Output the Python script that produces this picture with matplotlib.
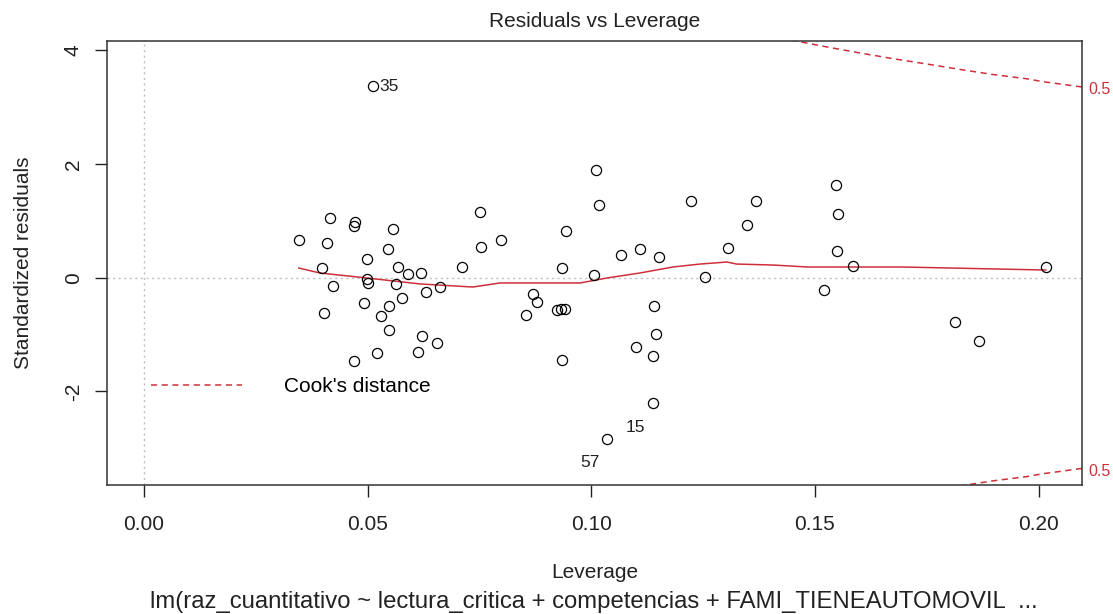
import numpy as np
import matplotlib
matplotlib.use("Agg")
import matplotlib.pyplot as plt

plt.rcParams["font.family"] = ["Liberation Sans", "DejaVu Sans"]

# Data
leverage = [
    0.0416, 0.0472, 0.0469, 0.0557, 0.0346, 0.0409, 0.0545, 0.0498, 0.0398, 0.0568,
    0.0590, 0.0619, 0.0498, 0.0501, 0.0563, 0.0422, 0.0630, 0.0662, 0.0577, 0.0492,
    0.0548, 0.0402, 0.0530, 0.0548, 0.0621, 0.0655, 0.0521, 0.0612, 0.0469, 0.0711,
    0.0751, 0.0753, 0.0798, 0.0869, 0.0878, 0.0854, 0.0923, 0.0932, 0.0941, 0.0934,
    0.0934, 0.0943, 0.1006, 0.1010, 0.1017, 0.1035, 0.1066, 0.1100, 0.1109, 0.1138,
    0.1140, 0.1144, 0.1138, 0.1151, 0.1223, 0.1254, 0.1305, 0.1348, 0.1368, 0.1520,
    0.1547, 0.1551, 0.1549, 0.1585, 0.1813, 0.1866, 0.2016, 0.0511,
]
std_resid = [
    1.050, 0.980, 0.910, 0.857, 0.663, 0.610, 0.505, 0.329, 0.171, 0.188,
    0.065, 0.083, -0.023, -0.093, -0.111, -0.146, -0.252, -0.164, -0.357, -0.445,
    -0.498, -0.621, -0.674, -0.920, -1.026, -1.149, -1.325, -1.307, -1.466, 0.188,
    1.156, 0.540, 0.663, -0.287, -0.428, -0.656, -0.568, -0.551, -0.551, 0.171,
    -1.448, 0.822, 0.048, 1.895, 1.279, -2.838, 0.399, -1.219, 0.505, -2.205,
    -0.498, -0.991, -1.378, 0.364, 1.350, 0.012, 0.523, 0.927, 1.350, -0.216,
    1.631, 1.121, 0.470, 0.206, -0.780, -1.114, 0.188, 3.373,
]
label_idx = [67, 49, 45]
label_txt = ["35", "15", "57"]

smooth_x = [0.0346, 0.0393, 0.0498, 0.0617, 0.0735, 0.0796, 0.0907, 0.0975, 0.1035,
            0.1109, 0.1182, 0.1243, 0.1303, 0.1325, 0.1406, 0.1484, 0.1697, 0.1907, 0.2016]
smooth_y = [0.170, 0.083, -0.005, -0.110, -0.164, -0.093, -0.093, -0.093, -0.005,
            0.083, 0.188, 0.240, 0.276, 0.240, 0.223, 0.188, 0.188, 0.153, 0.135]

cook_h = [0.140, 0.1448, 0.1527, 0.1600, 0.1674, 0.1750, 0.1824, 0.1898,
          0.1974, 0.2009, 0.2047, 0.2097]
cook_r = [4.28, 4.18, 4.06, 3.955, 3.855, 3.760, 3.665, 3.575,
          3.500, 3.450, 3.410, 3.356]
cook_level = "0.5"

RED = "#CE2F3A"

fig = plt.figure(figsize=(11.13, 6.14), dpi=100)
ax = fig.add_axes([0.0964, 0.2101, 0.8758, 0.7231])

ax.axhline(0, color="#BEBEBE", lw=1.0, ls=(0, (1.5, 2.5)), zorder=1)
ax.axvline(0, color="#BEBEBE", lw=1.0, ls=(0, (1.5, 2.5)), zorder=1)

ax.plot(leverage, std_resid, "o", mfc="none", mec="black", ms=7.3, mew=0.9, zorder=3)
ax.plot(smooth_x, smooth_y, color=RED, lw=1.1, zorder=2)

cook_line, = ax.plot(cook_h, cook_r, color=RED, lw=1.1, ls=(0, (4, 3)),
                     label="Cook's distance", zorder=2)
ax.plot(cook_h, [-v for v in cook_r], color=RED, lw=1.1, ls=(0, (4, 3)), zorder=2)

ax.set_xlim(-0.0082, 0.2097)
ax.set_ylim(-3.648, 4.165)

# observation labels
for i, t in zip(label_idx, label_txt):
    if leverage[i] < 0.08:
        off, ha = (5, 0), "left"
    else:
        off, ha = (-5.5, -17.3), "right"
    ax.annotate(t, (leverage[i], std_resid[i]), xytext=off, textcoords="offset points",
                ha=ha, va="center", fontsize=12.5, color="#222222")

# contour level labels in the right margin
for v in (cook_r[-1], -cook_r[-1]):
    ax.annotate(cook_level, (1.006, v), xycoords=ax.get_yaxis_transform(),
                xytext=(0, -2), textcoords="offset points",
                ha="left", va="center", fontsize=11.5, color=RED, annotation_clip=False)

ax.legend(handles=[cook_line], loc="center left", bbox_to_anchor=(0.0445, 0.221),
          frameon=False, fontsize=15, handlelength=4.4, handletextpad=2.0,
          borderpad=0, borderaxespad=0)

ax.set_xticks([0.00, 0.05, 0.10, 0.15, 0.20])
ax.set_xticklabels(["0.00", "0.05", "0.10", "0.15", "0.20"])
ax.set_yticks([-2, 0, 2, 4])
ax.set_yticklabels(["-2", "0", "2", "4"])
ax.tick_params(axis="both", length=8.6, width=1.0, labelsize=15, colors="#222222")
ax.tick_params(axis="x", pad=13)
ax.tick_params(axis="y", pad=9, labelrotation=90)
for lab in ax.get_yticklabels():
    lab.set_va("center")

for s in ax.spines.values():
    s.set_linewidth(1.1)
    s.set_color("#333333")

ax.set_title("Residuals vs Leverage", fontsize=15, pad=10, color="#222222")
ax.set_xlabel("Leverage", fontsize=15, color="#222222")
ax.xaxis.set_label_coords(0.5, -0.176)
ax.set_ylabel("Standardized residuals", fontsize=15, color="#222222")
ax.yaxis.set_label_coords(-0.076, 0.5)

fig.text(0.5333, 0.0195,
         "lm(raz_cuantitativo ~ lectura_critica + competencias + FAMI_TIENEAUTOMOVIL  ...",
         ha="center", va="center", fontsize=17.2, color="#222222")

fig.savefig("out.png", dpi=100)
